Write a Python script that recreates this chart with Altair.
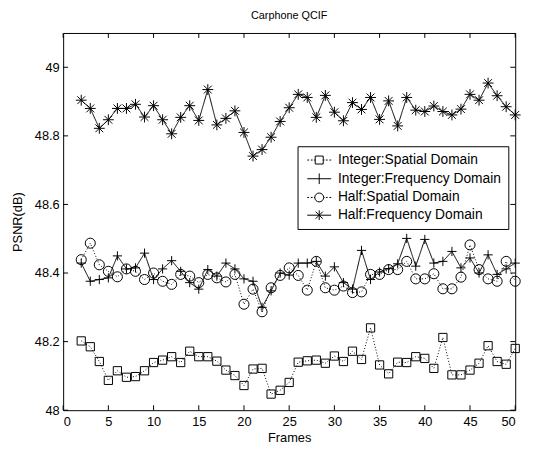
import altair as alt
import pandas as pd

frames = list(range(2, 51))
series_names = [
    "Integer:Spatial Domain",
    "Integer:Frequency Domain",
    "Half:Spatial Domain",
    "Half:Frequency Domain",
]
int_spatial = [48.202, 48.185, 48.142, 48.087, 48.115, 48.096, 48.098, 48.115, 48.139, 48.146,
               48.156, 48.139, 48.172, 48.156, 48.156, 48.143, 48.117, 48.101, 48.072, 48.120,
               48.122, 48.047, 48.058, 48.081,
               48.140, 48.144, 48.146, 48.137, 48.158, 48.142, 48.172, 48.148, 48.240, 48.132,
               48.106, 48.140, 48.139, 48.156, 48.151, 48.122, 48.212, 48.103, 48.103, 48.117,
               48.137, 48.188, 48.142, 48.134, 48.180]
int_freq = [48.429, 48.376, 48.381, 48.386, 48.450, 48.412, 48.415, 48.458, 48.381, 48.412,
            48.436, 48.405, 48.372, 48.353, 48.410, 48.391, 48.429, 48.412, 48.383, 48.376,
            48.300, 48.348, 48.400, 48.394,
            48.429, 48.429, 48.434, 48.391, 48.418, 48.372, 48.353, 48.466, 48.381, 48.403,
            48.413, 48.427, 48.501, 48.420, 48.498, 48.429, 48.434, 48.463, 48.415, 48.444,
            48.400, 48.453, 48.396, 48.412, 48.429]
half_spatial = [48.439, 48.487, 48.424, 48.405, 48.389, 48.412, 48.405, 48.381, 48.400, 48.376,
                48.367, 48.396, 48.391, 48.372, 48.396, 48.386, 48.374, 48.396, 48.309, 48.353,
                48.287, 48.357, 48.393, 48.415,
                48.393, 48.350, 48.434, 48.357, 48.350, 48.362, 48.343, 48.345, 48.396, 48.396,
                48.410, 48.410, 48.434, 48.383, 48.383, 48.398, 48.354, 48.354, 48.388, 48.482,
                48.410, 48.383, 48.376, 48.434, 48.376]
half_freq = [48.904, 48.880, 48.822, 48.847, 48.880, 48.880, 48.892, 48.855, 48.888, 48.847,
             48.806, 48.854, 48.888, 48.845, 48.935, 48.832, 48.851, 48.873, 48.810, 48.741,
             48.760, 48.796, 48.842, 48.882,
             48.921, 48.912, 48.854, 48.918, 48.869, 48.844, 48.897, 48.877, 48.912, 48.848,
             48.902, 48.829, 48.912, 48.875, 48.871, 48.887, 48.871, 48.861, 48.878, 48.921,
             48.904, 48.954, 48.917, 48.885, 48.861]
x_ticks = [0, 5, 10, 15, 20, 25, 30, 35, 40, 45, 50]
y_ticks = [48, 48.2, 48.4, 48.6, 48.8, 49]

rows = []
for name, vals in zip(series_names, [int_spatial, int_freq, half_spatial, half_freq]):
    for f, v in zip(frames, vals):
        rows.append({"frame": f, "psnr": v, "series": name})
df = pd.DataFrame(rows)

FONT = "Liberation Sans"
W, H = 459, 383

xscale = alt.Scale(domain=[0, 50], nice=False, zero=False)
yscale = alt.Scale(domain=[48, 49.1], nice=False, zero=False)

xaxis = alt.Axis(values=x_ticks, title="Frames", format="~g", labelPadding=6,
                 titlePadding=3)
yaxis = alt.Axis(values=y_ticks, title="PSNR(dB)", format="~g", labelPadding=4,
                 titleX=-46, titleY=H / 2, titleAngle=270, titleBaseline="middle",
                 titleAlign="center")

plus_path = "M-1,0L1,0M0,-1L0,1"
star_path = "M-1,0L1,0M0,-1L0,1M-0.72,-0.72L0.72,0.72M-0.72,0.72L0.72,-0.72"

lines = alt.Chart(df).mark_line(color="black", strokeWidth=1).encode(
    x=alt.X("frame:Q", scale=xscale, axis=xaxis),
    y=alt.Y("psnr:Q", scale=yscale, axis=yaxis),
    detail="series:N",
    strokeDash=alt.StrokeDash("series:N",
                              scale=alt.Scale(domain=series_names,
                                              range=[[1, 2], [1, 0], [1, 2], [1, 0]]),
                              legend=None),
)

points = alt.Chart(df).mark_point(filled=False, color="black", strokeWidth=1, opacity=1).encode(
    x=alt.X("frame:Q", scale=xscale, axis=xaxis),
    y=alt.Y("psnr:Q", scale=yscale, axis=yaxis),
    shape=alt.Shape("series:N",
                    scale=alt.Scale(domain=series_names,
                                    range=["square", plus_path, "circle", star_path]),
                    legend=None),
    size=alt.Size("series:N",
                  scale=alt.Scale(domain=series_names, range=[70, 121, 81, 100]),
                  legend=None),
)

leg_square = ("M-0.9,-0.9L0.9,-0.9L0.9,0.9L-0.9,0.9Z"
              "M-2.7,0L-2.3,0M-1.9,0L-1.5,0M-1.2,0L-0.9,0M0.9,0L1.2,0M1.5,0L1.9,0M2.3,0L2.7,0")
leg_plus = "M-2.7,0L2.7,0M0,-1.2L0,1.2"
leg_circle = ("M1,0A1,1,0,1,1,-1,0A1,1,0,1,1,1,0"
              "M-2.7,0L-2.3,0M-1.9,0L-1.5,0M-1.2,0L-1,0M1,0L1.2,0M1.5,0L1.9,0M2.3,0L2.7,0")
leg_star = "M-2.7,0L2.7,0M0,-1.1L0,1.1M-0.8,-0.8L0.8,0.8M-0.8,0.8L0.8,-0.8"

legend_df = pd.DataFrame({"entry": series_names})
legend_layer = alt.Chart(legend_df).mark_point(
    filled=False, color="black", strokeWidth=1, opacity=1, size=81
).encode(
    shape=alt.Shape("entry:N",
                    scale=alt.Scale(domain=series_names,
                                    range=[leg_square, leg_plus, leg_circle, leg_star]),
                    legend=alt.Legend(title=None, orient="none", legendX=238, legendY=115,
                                      direction="vertical", strokeColor="black",
                                      fillColor="white", padding=7, symbolSize=81,
                                      symbolOffset=8, labelOffset=12,
                                      labelFont=FONT, labelFontSize=14, labelColor="black",
                                      rowPadding=4, symbolStrokeColor="black",
                                      symbolFillColor="transparent",
                                      symbolStrokeWidth=1, labelLimit=400)),
).transform_filter("false")

ytick_df = pd.DataFrame({"psnr": y_ticks})
xtick_df = pd.DataFrame({"frame": x_ticks})

ytick_left = alt.Chart(ytick_df).mark_rule(color="black", strokeWidth=1).encode(
    y=alt.Y("psnr:Q", scale=yscale, axis=yaxis), x=alt.value(0), x2=alt.value(5))
ytick_right = alt.Chart(ytick_df).mark_rule(color="black", strokeWidth=1).encode(
    y=alt.Y("psnr:Q", scale=yscale, axis=yaxis), x=alt.value(W - 5), x2=alt.value(W))
xtick_bottom = alt.Chart(xtick_df).mark_rule(color="black", strokeWidth=1).encode(
    x=alt.X("frame:Q", scale=xscale, axis=xaxis), y=alt.value(H - 5), y2=alt.value(H))
xtick_top = alt.Chart(xtick_df).mark_rule(color="black", strokeWidth=1).encode(
    x=alt.X("frame:Q", scale=xscale, axis=xaxis), y=alt.value(0), y2=alt.value(5))

chart = alt.layer(
    ytick_left, ytick_right, xtick_bottom, xtick_top, lines, points, legend_layer
).resolve_scale(
    shape="independent"
).properties(
    width=W, height=H,
    title=alt.Title("Carphone QCIF", font=FONT, fontSize=11, fontWeight="normal",
                    color="black", anchor="middle", offset=12),
    autosize=alt.AutoSizeParams(type="none"),
    padding={"left": 56, "top": 22, "right": 14, "bottom": 34},
    background="white",
).configure_view(
    stroke="black", strokeWidth=1
).configure_axis(
    domain=False, ticks=False, tickSize=0, grid=False,
    labelFont=FONT, labelFontSize=13, labelColor="black",
    titleFont=FONT, titleFontSize=13, titleFontWeight="normal", titleColor="black",
)

chart.save("out.html", embed_options={"renderer": "svg", "actions": False})
